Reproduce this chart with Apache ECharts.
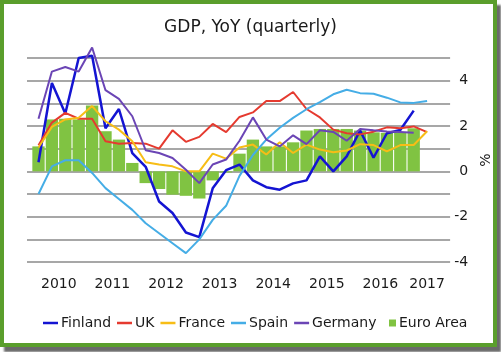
<!DOCTYPE html>
<html>
<head>
<meta charset="utf-8">
<script src="https://cdn.jsdelivr.net/npm/echarts@6/dist/echarts.min.js"></script>
<style>
  html, body { margin: 0; padding: 0; background: #ffffff; }
  #chart { position: absolute; left: 0; top: 0; width: 501px; height: 352px; }
  #frame { position: absolute; left: 0; top: 0; width: 497px; height: 347px; box-sizing: border-box;
           border: 4px solid #5a9e2c; box-shadow: 4px 5px 2px #6a6a6a; pointer-events: none; }
</style>
</head>
<body>
<div id="chart"></div>
<div id="frame"></div>
<script>
// Quarters 2010Q1 .. 2017Q2
const quarters = [
  '2010Q1','2010Q2','2010Q3','2010Q4',
  '2011Q1','2011Q2','2011Q3','2011Q4',
  '2012Q1','2012Q2','2012Q3','2012Q4',
  '2013Q1','2013Q2','2013Q3','2013Q4',
  '2014Q1','2014Q2','2014Q3','2014Q4',
  '2015Q1','2015Q2','2015Q3','2015Q4',
  '2016Q1','2016Q2','2016Q3','2016Q4',
  '2017Q1','2017Q2'
];
const finland = [0.4, 3.9, 2.55, 5.0, 5.1, 1.9, 2.75, 0.8, 0.2, -1.33, -1.84, -2.7, -2.9, -0.75, 0.05,
                 0.3, -0.4, -0.7, -0.81, -0.53, -0.4, 0.66, 0.0, 0.66, 1.8, 0.6, 1.68, 1.82, 2.68];
const uk = [1.15, 2.15, 2.58, 2.32, 2.32, 1.33, 1.22, 1.25, 1.22, 1.0, 1.81, 1.3, 1.52, 2.09, 1.73,
            2.4, 2.6, 3.1, 3.1, 3.5, 2.75, 2.38, 1.84, 1.68, 1.63, 1.75, 1.94, 1.9, 1.98, 1.73];
const france = [1.05, 1.96, 2.29, 2.36, 2.88, 2.21, 1.84, 1.33, 0.4, 0.3, 0.22, 0.0, 0.0, 0.78, 0.56,
                1.05, 1.18, 0.74, 1.28, 0.81, 1.18, 0.96, 0.84, 0.92, 1.2, 1.16, 0.88, 1.16, 1.16, 1.77];
const spain = [-1.0, 0.22, 0.49, 0.49, -0.07, -0.74, -1.22, -1.7, -2.29, -2.73, -3.17, -3.61, -3.0, -2.14, -1.52,
               -0.2, 0.72, 1.4, 1.92, 2.36, 2.74, 3.05, 3.4, 3.6, 3.45, 3.42, 3.25, 3.04, 3.02, 3.1];
const germany = [2.32, 4.4, 4.6, 4.4, 5.46, 3.58, 3.2, 2.43, 0.93, 0.81, 0.59, 0.07, -0.52, 0.3, 0.52,
                 1.35, 2.38, 1.4, 1.1, 1.59, 1.2, 1.81, 1.74, 1.35, 1.87, 1.81, 1.76, 1.74, 1.7];
const euroArea = [1.1, 2.29, 2.32, 2.29, 2.9, 1.77, 1.4, 0.37, -0.52, -0.78, -1.03, -1.08, -1.2, -0.4, -0.05,
                  0.78, 1.4, 1.1, 1.1, 1.28, 1.8, 1.87, 1.87, 1.87, 1.8, 1.72, 1.7, 1.73, 1.9];
const yMin = -4, yMax = 5, yStep = 1;
const yMaxData = 6; // data grid extends one unit higher so peaks are not clipped

const FONT = 'DejaVu Sans';
const chart = echarts.init(document.getElementById('chart'), null, { renderer: 'canvas' });

function lineSeries(name, data, color, width) {
  return {
    name, type: 'line', data, xAxisIndex: 1, yAxisIndex: 1,
    symbol: 'none', showSymbol: false, smooth: false, clip: false,
    lineStyle: { color, width }, itemStyle: { color },
    z: 3
  };
}

const unit = 204 / (yMax - yMin);
const lineNames = ['Finland', 'UK', 'France', 'Spain', 'Germany'];

chart.setOption({
  animation: false,
  backgroundColor: '#ffffff',
  title: {
    text: 'GDP, YoY (quarterly)', left: 'center', top: 14,
    textStyle: { fontFamily: FONT, fontSize: 17, fontWeight: 'normal', color: '#1a1a1a' }
  },
  legend: [
    {
      data: lineNames.map(n => ({ name: n, icon: 'rect' })),
      left: 38, top: 311, itemWidth: 15, itemHeight: 2.5, itemGap: 6,
      textStyle: { fontFamily: FONT, fontSize: 14, color: '#1a1a1a', padding: [0, 0, 0, -2] }
    },
    {
      data: [{ name: 'Euro Area', icon: 'rect' }],
      left: 384, top: 311, itemWidth: 7, itemHeight: 7, itemGap: 5,
      textStyle: { fontFamily: FONT, fontSize: 14, color: '#1a1a1a', padding: [0, 0, 0, -2] }
    }
  ],
  grid: [
    { left: 27, right: 49, top: 58, height: 204 },
    { left: 31.8, right: 67.2, top: 58 - unit * (yMaxData - yMax), height: 204 + unit * (yMaxData - yMax) }
  ],
  xAxis: [
    { gridIndex: 0, type: 'value', min: 0, max: 1, show: false },
    {
      gridIndex: 1, type: 'category', data: quarters, boundaryGap: true,
      axisLine: { show: false }, axisTick: { show: false }, splitLine: { show: false },
      axisLabel: {
        interval: (i) => (i % 4 === 2) || i === quarters.length - 1,
        margin: 15,
        formatter: (v, i) => i === quarters.length - 1 ? '{b|' + v.slice(0, 4) + '}' : '{a|' + v.slice(0, 4) + '}',
        rich: {
          a: { fontFamily: FONT, fontSize: 14, color: '#1a1a1a', padding: [0, 13, 0, 0] },
          b: { fontFamily: FONT, fontSize: 14, color: '#1a1a1a' }
        }
      }
    }
  ],
  yAxis: [
    {
      gridIndex: 0, type: 'value', min: yMin, max: yMax, interval: yStep, position: 'right',
      axisLine: { show: false }, axisTick: { show: false },
      splitLine: { show: true, lineStyle: { color: '#8a8a8a', width: 1.5 } },
      axisLabel: {
        align: 'right', margin: 18,
        formatter: (v) => (v % 2 === 0 ? String(v) : ''),
        fontFamily: FONT, fontSize: 14, color: '#1a1a1a'
      },
      name: '%', nameLocation: 'middle', nameGap: 20, nameRotate: 90,
      nameTextStyle: { fontFamily: FONT, fontSize: 14, color: '#1a1a1a' }
    },
    {
      gridIndex: 1, type: 'value', min: yMin, max: yMaxData, interval: yStep, show: false,
      splitLine: { show: false }
    }
  ],
  series: [
    {
      name: 'Euro Area', type: 'bar', data: euroArea, xAxisIndex: 1, yAxisIndex: 1,
      barCategoryGap: '8%', itemStyle: { color: '#80c342' }, z: 2
    },
    lineSeries('Finland', finland, '#1414d2', 2.5),
    lineSeries('UK', uk, '#e53a2f', 2),
    lineSeries('France', france, '#f7bd16', 2),
    lineSeries('Spain', spain, '#45ade6', 2),
    lineSeries('Germany', germany, '#6b45b5', 2)
  ]
});
</script>
</body>
</html>
